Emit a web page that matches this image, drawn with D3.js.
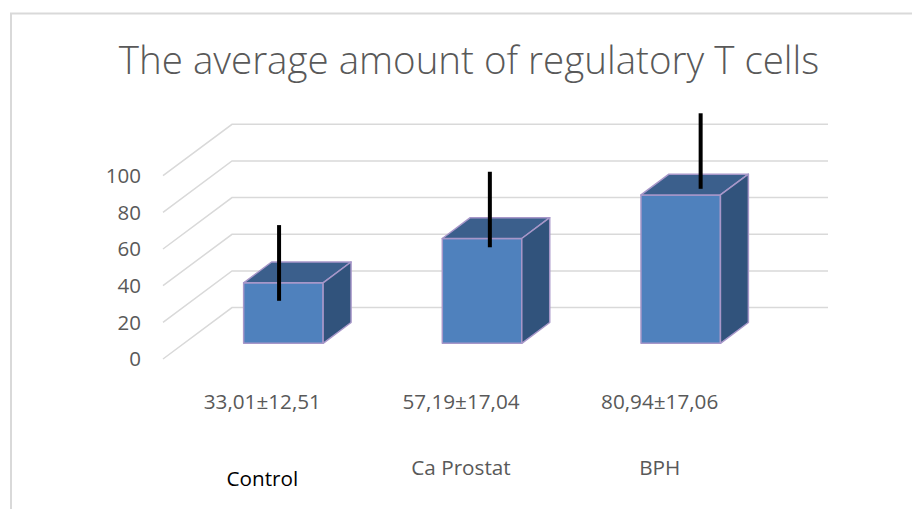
<!DOCTYPE html>
<html>
<head>
<meta charset="utf-8">
<script src="https://cdn.jsdelivr.net/npm/d3@7"></script>
<style>
  body { margin: 0; background: #fff; }
  text { font-family: "Open Sans", sans-serif; }
</style>
</head>
<body>
<script>
// data
var categories = ["Control", "Ca Prostat", "BPH"];
var valueLabels = ["33,01±12,51", "57,19±17,04", "80,94±17,06"];
var means = [33.01, 57.19, 80.94];
// error bar ends as drawn (axis units, measured at the bar front)
var errLow = [23.2, 52.4, 84.3];
var errHigh = [64.5, 93.6, 125.5];
var yTicks = [0, 20, 40, 60, 80, 100];

var width = 912, height = 509;
var depthX = 69, depthY = -51.4;   // full floor depth offset
var barFront = 0.305, barBack = 0.71;

var svg = d3.select("body").append("svg")
    .attr("width", width)
    .attr("height", height);

// chart frame
svg.append("path")
    .attr("d", "M11,509 V13.5 H912")
    .attr("fill", "none")
    .attr("stroke", "#d9d9d9")
    .attr("stroke-width", 2);

svg.append("text")
    .attr("x", 469)
    .attr("y", 74)
    .attr("text-anchor", "middle")
    .attr("font-size", 38.5)
    .attr("font-weight", 300)
    .attr("fill", "#595959")
    .text("The average amount of regulatory T cells");

var x = d3.scaleBand()
    .domain(categories)
    .range([163, 759])
    .paddingInner(0.6)
    .paddingOuter(0.3);

var y = d3.scaleLinear()
    .domain([0, 100])
    .range([359, 175.7]);

// gridlines: side wall diagonal + back wall
var grid = svg.append("g").attr("stroke", "#d9d9d9").attr("stroke-width", 1.5).attr("fill", "none");
grid.selectAll("path")
    .data(yTicks)
    .enter().append("path")
    .attr("d", function(d) {
        var x0 = x.range()[0], y0 = y(d);
        return "M" + x0 + "," + y0 + " L" + (x0 + depthX) + "," + (y0 + depthY) +
               " H" + (x.range()[1] + depthX);
    });

// y axis labels
svg.append("g").selectAll("text")
    .data(yTicks)
    .enter().append("text")
    .attr("x", 141)
    .attr("y", function(d) { return y(d); })
    .attr("dy", "0.36em")
    .attr("text-anchor", "end")
    .attr("font-size", 20.5)
    .attr("fill", "#595959")
    .text(function(d) { return d; });

// 3d bars
var fdx = barFront * depthX, fdy = barFront * depthY;
var bdx = (barBack - barFront) * depthX, bdy = (barBack - barFront) * depthY;
var bars = svg.append("g").selectAll("g")
    .data(categories)
    .enter().append("g")
    .attr("stroke", "#a797c9")
    .attr("stroke-width", 1.5)
    .attr("stroke-linejoin", "round");

bars.append("path")
    .attr("fill", "#4f81bd")
    .attr("d", function(d, i) {
        var x0 = x(d) + fdx, w = x.bandwidth(), yt = y(means[i]) + fdy, yb = y(0) + fdy;
        return "M" + x0 + "," + yb + "H" + (x0 + w) + "V" + yt + "H" + x0 + "Z";
    });
bars.append("path")
    .attr("fill", "#3b5f8c")
    .attr("d", function(d, i) {
        var x0 = x(d) + fdx, w = x.bandwidth(), yt = y(means[i]) + fdy;
        return "M" + x0 + "," + yt + "H" + (x0 + w) + "l" + bdx + "," + bdy +
               "H" + (x0 + bdx) + "Z";
    });
bars.append("path")
    .attr("fill", "#31537c")
    .attr("d", function(d, i) {
        var x1 = x(d) + fdx + x.bandwidth(), yt = y(means[i]) + fdy, yb = y(0) + fdy;
        return "M" + x1 + "," + yb + "V" + yt + "l" + bdx + "," + bdy +
               "V" + (yb + bdy) + "Z";
    });

// error bars (slight perspective drift to the right)
svg.append("g").selectAll("line")
    .data(categories)
    .enter().append("line")
    .attr("x1", function(d) {
        var cx = x(d) + fdx + x.bandwidth() / 2;
        return cx + 0.061 * (cx - 354);
    })
    .attr("x2", function(d) {
        var cx = x(d) + fdx + x.bandwidth() / 2;
        return cx + 0.061 * (cx - 354);
    })
    .attr("y1", function(d, i) { return y(errLow[i]) + fdy; })
    .attr("y2", function(d, i) { return y(errHigh[i]) + fdy; })
    .attr("stroke", "#000")
    .attr("stroke-width", 4);

// category labels
var labels = svg.append("g").attr("text-anchor", "middle").attr("font-size", 20.7);
labels.selectAll(".val")
    .data(categories)
    .enter().append("text")
    .attr("class", "val")
    .attr("x", function(d) { return x(d) + x.bandwidth() / 2; })
    .attr("y", 409)
    .attr("fill", "#595959")
    .text(function(d, i) { return valueLabels[i]; });
labels.selectAll(".cat")
    .data(categories)
    .enter().append("text")
    .attr("class", "cat")
    .attr("x", function(d) { return x(d) + x.bandwidth() / 2; })
    .attr("y", function(d, i) { return i === 0 ? 486 : 475; })
    .attr("fill", function(d, i) { return i === 0 ? "#000" : "#595959"; })
    .text(function(d) { return d; });
</script>
</body>
</html>
